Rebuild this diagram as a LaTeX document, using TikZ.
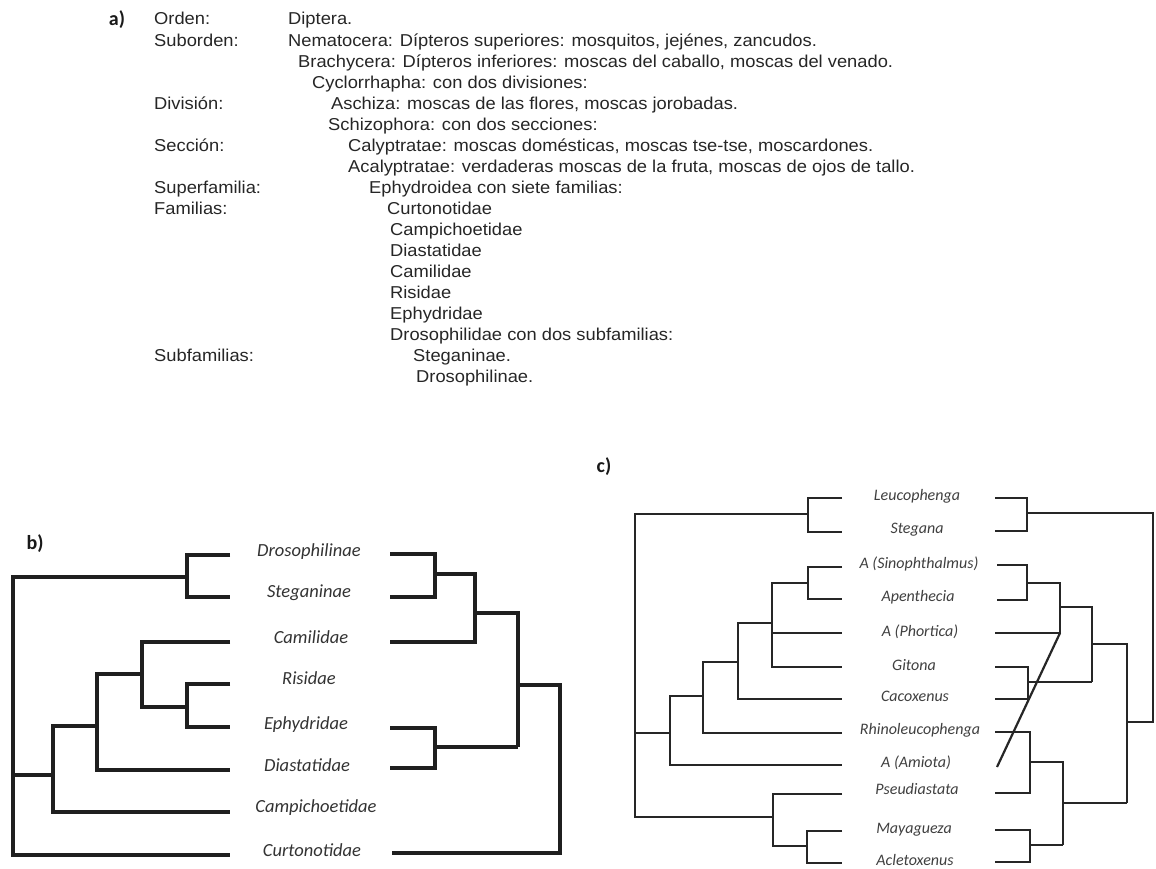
\documentclass[tikz,border=0pt]{standalone}
\usepackage{fontspec}
\newfontfamily\helvf[FakeStretch=1.065]{Liberation Sans}
\newfontfamily\calf{Carlito}
\begin{document}
\begin{tikzpicture}[x=1pt,y=-1pt,
  atext/.style={font=\helvf\fontsize{17.2}{20}\selectfont, anchor=base west, inner sep=0pt, text=black!85},
  plabel/.style={font=\calf\bfseries\fontsize{20}{22}\selectfont, inner sep=0pt, text=black!90},
  blab/.style={font=\calf\itshape\fontsize{18.5}{20}\selectfont, anchor=mid, inner sep=0pt, text=black!80},
  clab/.style={font=\calf\itshape\fontsize{16}{18}\selectfont, anchor=mid, inner sep=0pt, text=black!75},
  btree/.style={line width=3.3pt, draw=black!88, line join=miter},
  ctree/.style={line width=2.2pt, draw=black!85, line join=miter}]
\useasboundingbox (0,0) rectangle (1156,869);
\fill[white] (0,0) rectangle (1156,869);

% ---------- a) ----------
\node[plabel, anchor=center] (la) at (117,20) {a)};
\node[atext] (r0l) at (154,25) {Orden:};
\node[atext] (r0) at (288,25) {Diptera.};
\node[atext] (r1l) at (154,46.05) {Suborden:};
\node[atext] (r1) at (288,46.05) {Nematocera: Dípteros superiores: mosquitos, jejénes, zancudos.};
\node[atext] (r2) at (298,67.1) {Brachycera: Dípteros inferiores: moscas del caballo, moscas del venado.};
\node[atext] (r3) at (312,88.15) {Cyclorrhapha: con dos divisiones:};
\node[atext] (r4l) at (154,109.2) {División:};
\node[atext] (r4) at (331,109.2) {Aschiza: moscas de las flores, moscas jorobadas.};
\node[atext] (r5) at (328,130.25) {Schizophora: con dos secciones:};
\node[atext] (r6l) at (154,151.3) {Sección:};
\node[atext] (r6) at (348,151.3) {Calyptratae: moscas domésticas, moscas tse-tse, moscardones.};
\node[atext] (r7) at (348,172.35) {Acalyptratae: verdaderas moscas de la fruta, moscas de ojos de tallo.};
\node[atext] (r8l) at (154,193.4) {Superfamilia:};
\node[atext] (r8) at (369,193.4) {Ephydroidea con siete familias:};
\node[atext] (r9l) at (154,214.45) {Familias:};
\node[atext] (r9) at (387,214.45) {Curtonotidae};
\node[atext] (r10) at (390,235.5) {Campichoetidae};
\node[atext] (r11) at (390,256.55) {Diastatidae};
\node[atext] (r12) at (390,277.6) {Camilidae};
\node[atext] (r13) at (390,298.65) {Risidae};
\node[atext] (r14) at (390,319.7) {Ephydridae};
\node[atext] (r15) at (390,340.75) {Drosophilidae con dos subfamilias:};
\node[atext] (r16l) at (154,361.8) {Subfamilias:};
\node[atext] (r16) at (413,361.8) {Steganinae.};
\node[atext] (r17) at (416,382.85) {Drosophilinae.};

% ---------- b) ----------
\node[plabel, anchor=center] (lb) at (35,544) {b)};
\node[blab] (bDro) at (309,554) {Drosophilinae};
\node[blab] (bSte) at (309,595) {Steganinae};
\node[blab] (bCam) at (311,641) {Camilidae};
\node[blab] (bRis) at (309,682) {Risidae};
\node[blab] (bEph) at (306,727) {Ephydridae};
\node[blab] (bDia) at (307,769) {Diastatidae};
\node[blab] (bCpc) at (316,810) {Campichoetidae};
\node[blab] (bCur) at (312,854) {Curtonotidae};

% left tree
\draw[btree] (230,555) -- (187,555) -- (187,597) -- (230,597);
\draw[btree] (187,577) -- (13,577) -- (13,855) -- (230,855);
\draw[btree] (13,775) -- (53,775);
\draw[btree] (97,726) -- (53,726) -- (53,812) -- (230,812);
\draw[btree] (142,674) -- (97,674) -- (97,770) -- (230,770);
\draw[btree] (230,642) -- (142,642) -- (142,707) -- (187,707);
\draw[btree] (230,684) -- (187,684) -- (187,727) -- (230,727);
% right tree
\draw[btree] (390,554) -- (435,554) -- (435,597) -- (390,597);
\draw[btree] (435,574) -- (475,574) -- (475,642) -- (390,642);
\draw[btree] (475,613) -- (518,613) -- (518,747);
\draw[btree] (390,728) -- (435,728) -- (435,768) -- (390,768);
\draw[btree] (435,747) -- (518,747);
\draw[btree] (518,685) -- (560,685) -- (560,853) -- (392,853);

% ---------- c) ----------
\node[plabel, anchor=center] (lc) at (604,467) {c)};
\node[clab] (cLeu) at (917,498) {Leucophenga};
\node[clab] (cSte) at (917,531) {Stegana};
\node[clab] (cSin) at (919,566) {A (Sinophthalmus)};
\node[clab] (cApe) at (918,599) {Apenthecia};
\node[clab] (cPho) at (920,634) {A (Phortica)};
\node[clab] (cGit) at (914,668) {Gitona};
\node[clab] (cCac) at (915,699) {Cacoxenus};
\node[clab] (cRhi) at (920,732) {Rhinoleucophenga};
\node[clab] (cAmi) at (916,765) {A (Amiota)};
\node[clab] (cPse) at (917,792) {Pseudiastata};
\node[clab] (cMay) at (914,831) {Mayagueza};
\node[clab] (cAcl) at (915,863) {Acletoxenus};

% left tree
\draw[ctree] (842,498) -- (808,498) -- (808,532) -- (842,532);
\draw[ctree] (808,514) -- (635,514) -- (635,817) -- (773,817);
\draw[ctree] (842,567) -- (808,567) -- (808,599) -- (842,599);
\draw[ctree] (808,583) -- (772,583) -- (772,667) -- (842,667);
\draw[ctree] (772,633) -- (842,633);
\draw[ctree] (772,623) -- (738,623) -- (738,699) -- (842,699);
\draw[ctree] (738,662) -- (703,662) -- (703,733) -- (842,733);
\draw[ctree] (703,696) -- (670,696) -- (670,765) -- (842,765);
\draw[ctree] (670,733) -- (635,733);
\draw[ctree] (842,794) -- (773,794) -- (773,846) -- (807,846);
\draw[ctree] (842,831) -- (807,831) -- (807,863) -- (842,863);
% right tree
\draw[ctree] (995,498) -- (1027,498) -- (1027,531) -- (995,531);
\draw[ctree] (1027,513) -- (1153,513) -- (1153,722) -- (1127,722);
\draw[ctree] (997,565) -- (1027,565) -- (1027,600) -- (997,600);
\draw[ctree] (1027,583) -- (1060,583) -- (1060,633) -- (995,633);
\draw[ctree] (1060,607) -- (1092,607) -- (1092,682);
\draw[ctree] (995,667) -- (1028,667) -- (1028,699) -- (995,699);
\draw[ctree] (1028,682) -- (1092,682);
\draw[ctree] (1092,644) -- (1127,644) -- (1127,803);
\draw[ctree] (995,732) -- (1030,732) -- (1030,793) -- (995,793);
\draw[ctree] (1030,762) -- (1063,762) -- (1063,845);
\draw[ctree] (995,830) -- (1030,830) -- (1030,862) -- (995,862);
\draw[ctree] (1030,845) -- (1063,845);
\draw[ctree] (1063,803) -- (1127,803);
\draw[ctree] (997,767) -- (1060,633);
\end{tikzpicture}
\end{document}
